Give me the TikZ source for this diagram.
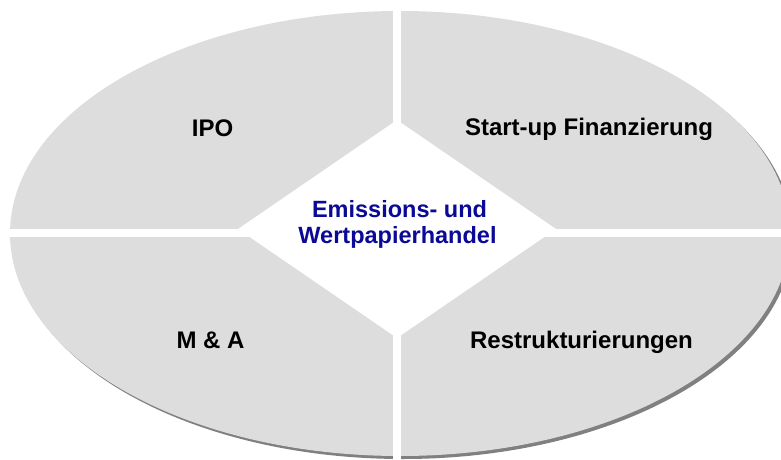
\documentclass[tikz,border=0pt]{standalone}
\usepackage{fontspec}
\setmainfont{Liberation Sans}
\definecolor{segfill}{RGB}{221,221,221}
\definecolor{shadowgray}{RGB}{128,128,128}
\definecolor{centerblue}{RGB}{10,10,150}
\begin{document}
\begin{tikzpicture}[x=1pt,y=-1pt,
  lbl/.style={font=\bfseries\fontsize{24}{27}\selectfont, anchor=base, inner sep=0pt, text=black},
  clbl/.style={font=\bfseries\fontsize{23.5}{26}\selectfont, anchor=base, inner sep=0pt, text=centerblue}]
\useasboundingbox (0,0) rectangle (781,460);
\clip (0,0) rectangle (781,460);
% shadow and disc
\fill[shadowgray] (403,236.5) ellipse [x radius=390, y radius=222.5];
\fill[segfill] (400,233.5) ellipse [x radius=390, y radius=222.5];
% white gaps
\fill[white] (393,-5) rectangle (401,470);
\fill[white] (-5,229) rectangle (800,237);
% centre diamond
\fill[white] (238,229) -- (397,120) -- (556,229) -- (397,338) -- cycle;
% labels
\node[lbl] (ipo) at (212.5,136) {IPO};
\node[lbl] (start) at (589,135) {Start-up Finanzierung};
\node[lbl] (ma) at (210.5,348) {M \& A};
\node[lbl] (restr) at (581.5,348) {Restrukturierungen};
\node[clbl] (c1) at (399.5,217.3) {Emissions- und};
\node[clbl] (c2) at (397.5,243.3) {Wertpapierhandel};
\end{tikzpicture}
\end{document}
